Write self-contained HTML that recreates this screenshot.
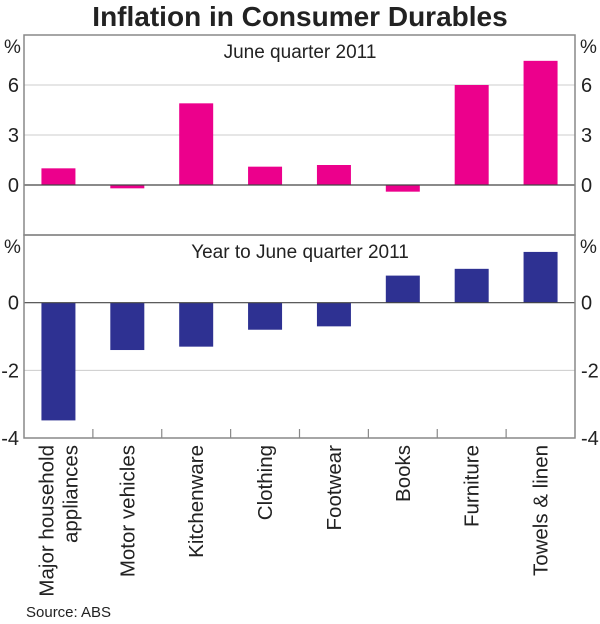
<!DOCTYPE html>
<html><head><meta charset="utf-8"><style>
body{margin:0;background:#fff;}
svg text{font-family:"Liberation Sans",Arial,sans-serif;fill:#222;}
</style></head><body>
<svg id="chart" width="600" height="619" xmlns="http://www.w3.org/2000/svg">
<text x="300" y="26" font-size="28" font-weight="bold" text-anchor="middle">Inflation in Consumer Durables</text>
<g id="g"></g>
<text x="26" y="617" font-size="15">Source: ABS</text>
</svg>
<script>
const categories=["Major household|appliances","Motor vehicles","Kitchenware","Clothing","Footwear","Books","Furniture","Towels & linen"];
const quarterValues=[1.0,-0.2,4.9,1.1,1.2,-0.4,6.0,7.45];
const yearValues=[-3.48,-1.4,-1.3,-0.8,-0.7,0.8,1.0,1.5];
const topTicks=[0,3,6];
const bottomTicks=[-4,-2,0];
const NS="http://www.w3.org/2000/svg";
const g=document.getElementById('g');
function el(t,a,txt){const e=document.createElementNS(NS,t);for(const k in a)e.setAttribute(k,a[k]);if(txt!=null)e.textContent=txt;g.appendChild(e);return e;}
const L=24,R=575,W=R-L,n=categories.length,cw=W/n,bw=34;
const xC=i=>L+cw*(i+0.5);
function panel(name,top,bot,min,max,ticks,vals,color,title){
  const y=v=>top+(max-v)/(max-min)*(bot-top);
  ticks.forEach(t=>{
    if(t!==0){const gl=el('line',{x1:L,x2:R,y1:y(t),y2:y(t),stroke:'#ccc','stroke-width':1});
    
    }
    const a=el('text',{x:19,y:y(t)+7,'font-size':20,'text-anchor':'end'},String(t));
    
    
    const b=el('text',{x:581,y:y(t)+7,'font-size':20},String(t));
    
    
  });
  const p1=el('text',{x:4,y:top+18,'font-size':19},'%');
  
  
  const p2=el('text',{x:580,y:top+18,'font-size':19},'%');
  
  
  vals.forEach((v,i)=>{
    const r=el('rect',{x:xC(i)-bw/2,y:Math.min(y(v),y(0)),width:bw,height:Math.abs(y(v)-y(0)),fill:color});
    
    
  });
  const z=el('line',{x1:L,x2:R,y1:y(0),y2:y(0),stroke:'#444','stroke-width':1.2});
  
  
  const f=el('rect',{x:L,y:top,width:W,height:bot-top,fill:'none',stroke:'#888','stroke-width':1.5});
  
  
  const tt=el('text',{x:300,y:top+23,'font-size':19,'text-anchor':'middle'},title);
  
  
  return y;
}
panel('quarter-panel',35,235,-3,9,topTicks,quarterValues,'#ec008c','June quarter 2011');
panel('year-panel',235,438,-4,2,bottomTicks,yearValues,'#2e3192','Year to June quarter 2011');
for(let i=1;i<n;i++){
  const t=el('line',{x1:L+cw*i,x2:L+cw*i,y1:429,y2:438,stroke:'#888','stroke-width':1.2});
  
  
}
categories.forEach((c,i)=>{
  const lines=c.split('|');
  lines.forEach((s,j)=>{
    const x=xC(i)+7+(j-(lines.length-1)/2)*24;
    const t=el('text',{x:x,y:445,'font-size':20.5,'text-anchor':'end',transform:`rotate(-90 ${x} 445)`},s);
    
    
  });
});
</script>
</body></html>
